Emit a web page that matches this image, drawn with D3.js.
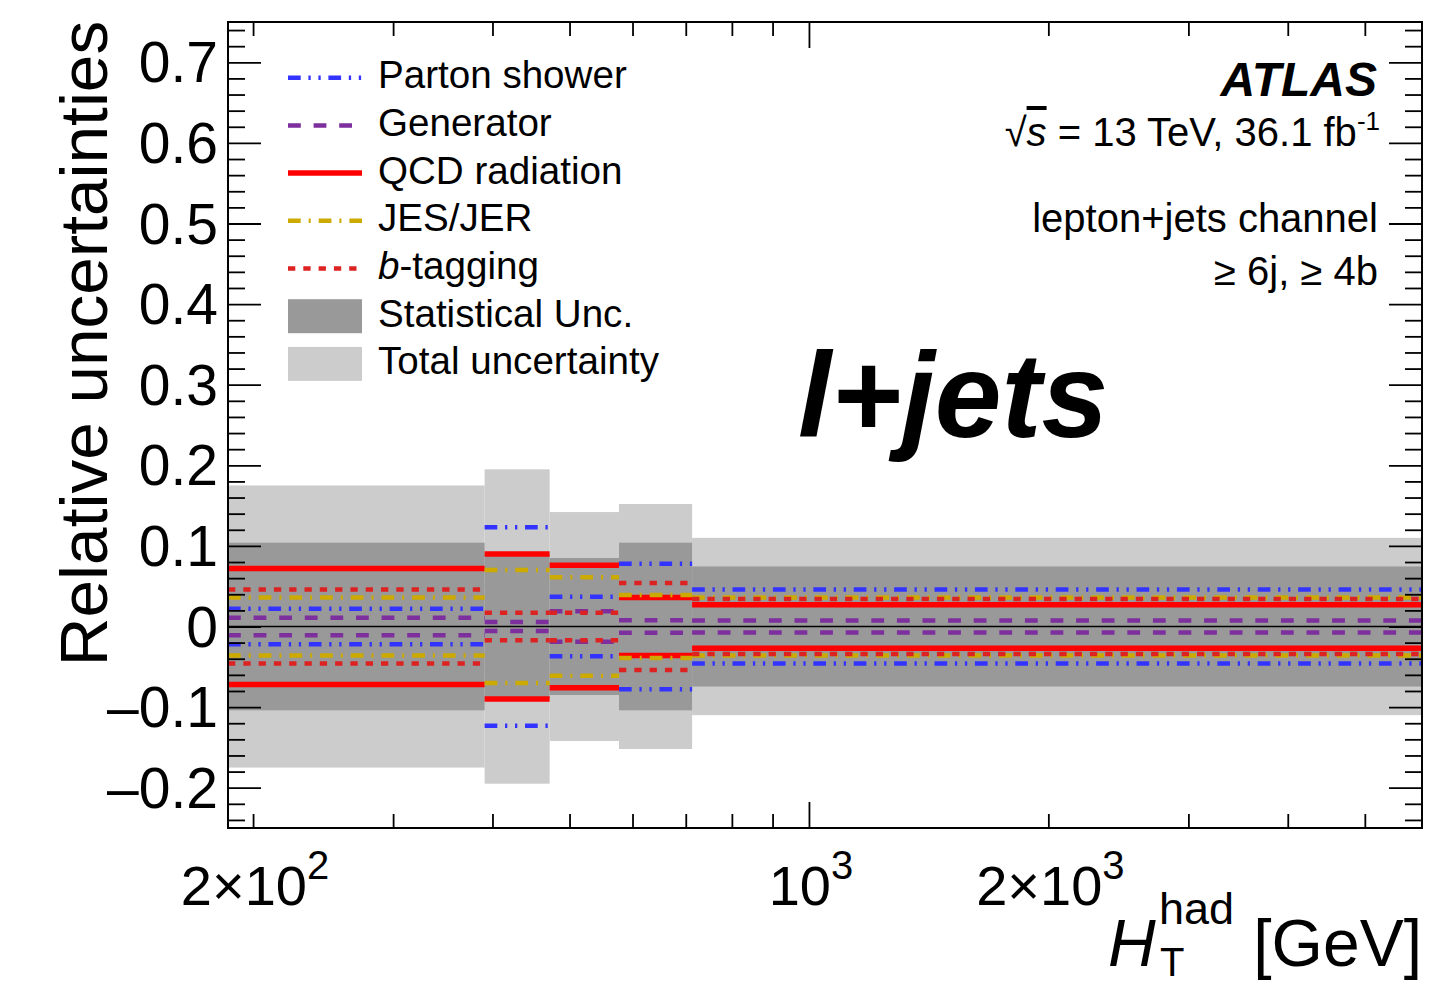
<!DOCTYPE html>
<html>
<head>
<meta charset="utf-8">
<script src="https://cdn.jsdelivr.net/npm/d3@7"></script>
<style>
  body { margin: 0; background: #fff; }
  svg text { font-family: "Liberation Sans", Arial, Helvetica, sans-serif; fill: #000; }
</style>
</head>
<body>
<div class="chart"></div>
<script>
// bin edges in GeV and the per-bin relative uncertainties (drawn as +/- v)
const binEdges     = [186, 391, 472, 577, 713, 5900];
const partonShower = [0.022, 0.123, 0.037, 0.078, 0.046];
const generator    = [0.011, 0.0056, 0.019, 0.0077, 0.0075];
const qcdRadiation = [0.072, 0.090, 0.076, 0.036, 0.027];
const jesJer       = [0.036, 0.070, 0.061, 0.039, 0.036];
const bTagging     = [0.046, 0.017, 0.0172, 0.054, 0.034];
const statUnc      = [0.104, 0.090, 0.085, 0.104, 0.0745];
const totalUnc     = [0.175, 0.195, 0.142, 0.152, 0.110];

const yMajor = [-0.2, -0.1, 0, 0.1, 0.2, 0.3, 0.4, 0.5, 0.6, 0.7];
const yLabels = ['\u20130.2', '\u20130.1', '0', '0.1', '0.2', '0.3', '0.4', '0.5', '0.6', '0.7'];
const xMinor = [200, 300, 400, 500, 600, 700, 800, 900, 2000, 3000, 4000, 5000];
const xMajor = [1000];
const xLabels = [{v: 200, m: '2\u00d710', e: '2'}, {v: 1000, m: '10', e: '3'}, {v: 2000, m: '2\u00d710', e: '3'}];

const width = 1434, height = 987;
const pL = 228, pR = 1422, pT = 22, pB = 828;

const svg = d3.select('.chart').append('svg')
  .attr('width', width).attr('height', height)
  .attr('viewBox', `0 0 ${width} ${height}`);

const x = d3.scaleLog().domain([binEdges[0], binEdges[binEdges.length - 1]]).range([pL, pR]);
const y = d3.scaleLinear().domain([-0.25, 0.75]).range([pB, pT]);

svg.append('clipPath').attr('id', 'plotclip')
  .append('rect').attr('x', pL).attr('y', pT).attr('width', pR - pL).attr('height', pB - pT);

const plot = svg.append('g').attr('clip-path', 'url(#plotclip)');

const bins = d3.range(binEdges.length - 1);

// bands
function band(vals, color) {
  plot.append('g').selectAll('rect').data(bins).enter().append('rect')
    .attr('x', i => x(binEdges[i]))
    .attr('width', i => x(binEdges[i + 1]) - x(binEdges[i]))
    .attr('y', i => y(vals[i]))
    .attr('height', i => y(-vals[i]) - y(vals[i]))
    .attr('fill', color);
}
band(totalUnc, '#cccccc');
band(statUnc, '#999999');

const series = [
  {name: 'Parton shower', vals: partonShower, color: '#3333ff', dash: '12.7,7.7,2.3,7.7,2.3,7.7', w: 4.5},
  {name: 'Generator', vals: generator, color: '#7d2f9d', dash: '12.8,12.8', w: 4.5},
  {name: 'QCD radiation', vals: qcdRadiation, color: '#ff0000', dash: null, w: 5.5},
  {name: 'JES/JER', vals: jesJer, color: '#ccaa00', dash: '12.7,8,2,8', w: 4.5},
  {name: 'b-tagging', vals: bTagging, color: '#dd2222', dash: '7.3,8', w: 4.5}
];

series.forEach(s => {
  [1, -1].forEach(sign => {
    plot.append('g').selectAll('line').data(bins).enter().append('line')
      .attr('x1', i => x(binEdges[i]))
      .attr('x2', i => x(binEdges[i + 1]))
      .attr('y1', i => y(sign * s.vals[i]))
      .attr('y2', i => y(sign * s.vals[i]))
      .attr('stroke', s.color)
      .attr('stroke-width', s.w)
      .attr('stroke-dasharray', s.dash);
  });
});

// zero line
plot.append('line')
  .attr('x1', pL).attr('x2', pR)
  .attr('y1', y(0)).attr('y2', y(0))
  .attr('stroke', '#000').attr('stroke-width', 1.6);

// axes (ticks inward on all four sides)
const yMinor = d3.range(-0.24, 0.75, 0.02).filter(v => Math.abs(Math.round(v * 10) - v * 10) > 0.05);

function axisG(axis, tx, ty) {
  const g = svg.append('g').attr('transform', `translate(${tx},${ty})`).call(axis);
  g.select('.domain').remove();
  g.selectAll('text').remove();
  g.selectAll('line').attr('stroke', '#000').attr('stroke-width', 1.8);
  return g;
}
axisG(d3.axisLeft(y).tickValues(yMajor).tickSize(-33), pL, 0);
axisG(d3.axisLeft(y).tickValues(yMinor).tickSize(-17), pL, 0);
axisG(d3.axisRight(y).tickValues(yMajor).tickSize(-33), pR, 0);
axisG(d3.axisRight(y).tickValues(yMinor).tickSize(-17), pR, 0);
axisG(d3.axisBottom(x).tickValues(xMajor).tickSize(-26), 0, pB);
axisG(d3.axisBottom(x).tickValues(xMinor).tickSize(-14), 0, pB);
axisG(d3.axisTop(x).tickValues(xMajor).tickSize(-26), 0, pT);
axisG(d3.axisTop(x).tickValues(xMinor).tickSize(-14), 0, pT);

svg.append('rect')
  .attr('x', pL).attr('y', pT).attr('width', pR - pL).attr('height', pB - pT)
  .attr('fill', 'none').attr('stroke', '#000').attr('stroke-width', 2);

// y tick labels
svg.append('g').selectAll('text').data(yMajor).enter().append('text')
  .attr('x', pL - 10)
  .attr('y', d => y(d) + 20)
  .attr('text-anchor', 'end')
  .style('font-size', '57px')
  .text((d, i) => yLabels[i]);

// x tick labels with exponent
const xl = svg.append('g').selectAll('text').data(xLabels).enter().append('text')
  .attr('x', d => x(d.v) + 2)
  .attr('y', 905)
  .attr('text-anchor', 'middle')
  .style('font-size', '56px');
xl.append('tspan').text(d => d.m);
xl.append('tspan').attr('dy', -26).style('font-size', '40px').text(d => d.e);

// axis titles
svg.append('text')
  .attr('transform', `translate(107,${(25 + 662) / 2}) rotate(-90)`)
  .attr('text-anchor', 'middle')
  .style('font-size', '67.5px')
  .text('Relative uncertainties');

svg.append('text').attr('x', 1108).attr('y', 966)
  .style('font-size', '66px').style('font-style', 'italic').text('H');
svg.append('text').attr('x', 1159).attr('y', 924)
  .style('font-size', '45px').text('had');
svg.append('text').attr('x', 1160).attr('y', 976)
  .style('font-size', '40px').text('T');
svg.append('text').attr('x', pR).attr('y', 966)
  .attr('text-anchor', 'end')
  .style('font-size', '66px').text('[GeV]');

// legend
const legX0 = 288, legX1 = 362, legText = 378, legY0 = 77.7, legStep = 47.7;
const leg = svg.append('g');
series.forEach((s, i) => {
  const yy = legY0 + i * legStep;
  leg.append('line')
    .attr('x1', legX0).attr('x2', legX1).attr('y1', yy).attr('y2', yy)
    .attr('stroke', s.color).attr('stroke-width', s.w).attr('stroke-dasharray', s.dash);
  const t = leg.append('text').attr('x', legText).attr('y', yy + 10.5).style('font-size', '38.6px');
  if (s.name === 'b-tagging') {
    t.append('tspan').style('font-style', 'italic').text('b');
    t.append('tspan').text('-tagging');
  } else {
    t.text(s.name);
  }
});
[['Statistical Unc.', '#999999'], ['Total uncertainty', '#cccccc']].forEach((b, j) => {
  const yy = legY0 + (5 + j) * legStep;
  leg.append('rect').attr('x', legX0).attr('y', yy - 17).attr('width', legX1 - legX0).attr('height', 34)
    .attr('fill', b[1]);
  leg.append('text').attr('x', legText).attr('y', yy + 10.5).style('font-size', '38.6px').text(b[0]);
});

// labels on the right
svg.append('text').attr('x', 1377).attr('y', 96).attr('text-anchor', 'end')
  .style('font-size', '48px').style('font-weight', 'bold').style('font-style', 'italic').text('ATLAS');

const lumi = svg.append('text').attr('x', 1380).attr('y', 146).attr('text-anchor', 'end').style('font-size', '40px');
lumi.append('tspan').text('\u221a');
lumi.append('tspan').style('font-style', 'italic').style('text-decoration', 'overline').text('s');
lumi.append('tspan').text(' = 13 TeV, 36.1 fb');
lumi.append('tspan').attr('dy', -16).style('font-size', '26px').text('-1');

svg.append('text').attr('x', 1378).attr('y', 232).attr('text-anchor', 'end')
  .style('font-size', '40px').text('lepton+jets channel');
svg.append('text').attr('x', 1378).attr('y', 285).attr('text-anchor', 'end')
  .style('font-size', '40px').text('\u2265 6j, \u2265 4b');

svg.append('text').attr('x', 798).attr('y', 437)
  .style('font-size', '120px').style('font-weight', 'bold').style('font-style', 'italic').text('l+jets');
</script>
</body>
</html>
